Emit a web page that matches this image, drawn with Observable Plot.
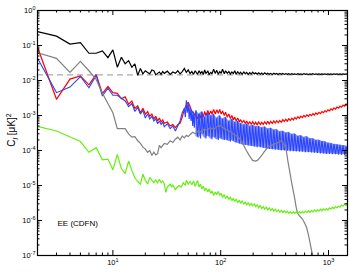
<!DOCTYPE html>
<html><head><meta charset="utf-8">
<script src="https://cdn.jsdelivr.net/npm/d3@7"></script>
<script src="https://cdn.jsdelivr.net/npm/@observablehq/plot@0.6"></script>
<style>body{margin:0;background:#fff}</style>
</head><body><div id="chart"></div>
<script>
// ---------- data ----------
const ellLow = [2,3,4,5,6,7,8,9,10,11,12,13,14,15,16,17,18,19,20,21,22,23,24,25,26,27,28,29,30,32,34,36,38,40,42,44,46,48,50,52,54,56,58];
const ellBlueLow = [2,3,4,5,6,7,8,9,10,11,12,13,14,15,16,17,18,19,20,21,22,23,24,25,26,27,28,29,30,32,34,36,38,40,42,44,46,47,48,49,50,51,52,53,54,55,56,57,58];
const ellHigh = [59,61,63,65,67,69,71,73,76,78,81,83,86,89,92,95,98,101,104,108,111,115,119,123,127,131,135,139,144,149,153,158,164,169,174,180,186,192,198,205,211,218,225,233,240,248,256,265,273,282,291,301,311,321,331,342,353,365,377,389,402,415,428,442,457,472,487,503,520,537,554,572,591,610,630,651,672,694,717,740,764,789,815,842,869,898,927,957,988,1021,1054,1088,1124,1161,1199,1238,1278,1320,1363,1408,1454,1500];

const blackLow = [0.25,0.185,0.11,0.12,0.06,0.06,0.07,0.045,0.075,0.024,0.046,0.03,0.037,0.024,0.03,0.014,0.022,0.0155,0.019,0.017,0.0155,0.02,0.019,0.0145,0.016,0.0175,0.015,0.018,0.016,0.0185,0.015,0.0175,0.016,0.019,0.0155,0.018,0.022,0.017,0.02,0.0158,0.018,0.015,0.019];
const blackHigh = [0.0175,0.015,0.019,0.016,0.018,0.0148,0.02,0.016,0.0185,0.015,
0.017,0.0155,0.021,0.016,0.0195,0.015,0.018,0.016,0.021,0.0155,
0.019,0.016,0.018,0.0152,0.0175,0.0158,0.019,0.015,0.0178,0.0155,
0.0172,0.015,0.0175,0.0155,0.017,0.015,0.0168,0.0152,0.0172,0.0155,
0.0166,0.0152,0.0165,0.0151,0.0164,0.015,0.0165,0.0151,0.0162,0.015,
0.016,0.0149,0.0161,0.015,0.0159,0.0149,0.016,0.015,0.0158,0.0149,
0.0156,0.015,0.0157,0.0149,0.0156,0.015,0.0155,0.0149,0.0156,0.015,
0.0155,0.0149,0.0156,0.015,0.0155,0.0149,0.0155,0.015,0.0156,0.0149,
0.0155,0.015,0.0155,0.0149,0.0154,0.015,0.0155,0.0149,0.0154,0.015,
0.0155,0.0149,0.0154,0.015,0.0155,0.0149,0.0154,0.015,0.0154,0.0149,
0.0154,0.0152];

const redLow = [0.089,0.0029,0.011,0.0135,0.0075,0.015,0.0042,0.0068,0.0045,0.0043,0.003,0.0034,0.0021,0.0026,0.0016,0.0019,0.0012,0.0016,0.0011,0.0013,0.00095,0.0011,0.0008,0.00095,0.0007,0.00085,0.00065,0.00075,0.0006,0.00065,0.0005,0.00055,0.00045,0.00055,0.0006,0.0009,0.0015,0.002,0.0024,0.0018,0.0013,0.00115,0.001];
const redHigh = [1.0e-3,8e-4,1.1e-3,8.5e-4,1.2e-3,9e-4,1.3e-3,1.0e-3,1.4e-3,1.05e-3,
1.35e-3,1.1e-3,1.5e-3,1.1e-3,1.45e-3,1.15e-3,1.5e-3,1.1e-3,1.35e-3,1.0e-3,
1.25e-3,9e-4,1.1e-3,8.2e-4,1.0e-3,7.5e-4,9e-4,7e-4,8.5e-4,6.6e-4,
7.6e-4,6.3e-4,7.2e-4,5.9e-4,7e-4,5.7e-4,6.6e-4,5.6e-4,6.6e-4,5.5e-4,
6.4e-4,5.4e-4,6.5e-4,5.5e-4,6.4e-4,5.6e-4,6.6e-4,5.7e-4,6.8e-4,5.8e-4,
6.8e-4,5.9e-4,7e-4,6.1e-4,7.1e-4,6.2e-4,7.2e-4,6.4e-4,7.6e-4,6.7e-4,
7.8e-4,6.9e-4,8.1e-4,7.2e-4,8.4e-4,7.5e-4,8.8e-4,7.9e-4,9.2e-4,8.3e-4,
9.6e-4,8.7e-4,1.0e-3,9.1e-4,1.04e-3,9.5e-4,1.08e-3,9.9e-4,1.13e-3,1.03e-3,
1.18e-3,1.08e-3,1.23e-3,1.13e-3,1.3e-3,1.2e-3,1.38e-3,1.27e-3,1.46e-3,1.35e-3,
1.55e-3,1.43e-3,1.65e-3,1.52e-3,1.74e-3,1.62e-3,1.85e-3,1.72e-3,1.97e-3,1.84e-3,
2.12e-3,2.05e-3];

const blueLow = [0.043,0.0045,0.0065,0.013,0.0062,0.014,0.0036,0.006,0.0038,0.0038,0.0031,0.0026,0.0018,0.0022,0.0013,0.0017,0.0011,0.0014,0.00085,0.0011,0.0008,0.00095,0.0007,0.0008,0.00058,0.0007,0.00055,0.00065,0.00048,0.00058,0.00042,0.0005,0.00036,0.0005,0.0007,0.0012,0.0016,0.0009,0.0027,0.0012,0.0023,0.0008,0.0018,0.0007,0.0014,0.0005,0.0013,0.00045,0.0011];
const blueHigh = [1.4e-3,2.5e-4,1.1e-3,2.2e-4,1.3e-3,3e-4,9e-4,2.2e-4,1.2e-3,2.6e-4,
1e-3,2.1e-4,1.1e-3,2.4e-4,8.5e-4,2e-4,1e-3,2.2e-4,8e-4,2e-4,
9e-4,2e-4,7e-4,1.8e-4,8e-4,1.9e-4,6.5e-4,1.7e-4,7e-4,1.6e-4,
6e-4,1.5e-4,5.5e-4,1.45e-4,5.8e-4,1.4e-4,5e-4,1.35e-4,5.3e-4,1.3e-4,
4.8e-4,1.25e-4,5e-4,1.25e-4,4.5e-4,1.2e-4,4.8e-4,1.15e-4,4.2e-4,1.1e-4,
4.4e-4,1.08e-4,3.9e-4,1.05e-4,4e-4,1.05e-4,3.5e-4,1e-4,3.6e-4,1e-4,
3.2e-4,9.8e-5,3.3e-4,9.6e-5,2.9e-4,9.5e-5,3e-4,9.4e-5,2.6e-4,9.3e-5,
2.7e-4,9.2e-5,2.4e-4,9e-5,2.5e-4,8.9e-5,2.2e-4,8.8e-5,2.2e-4,8.6e-5,
2e-4,8.5e-5,2e-4,8.3e-5,1.85e-4,8.2e-5,1.8e-4,8e-5,1.65e-4,8e-5,
1.6e-4,7.9e-5,1.52e-4,7.8e-5,1.48e-4,7.7e-5,1.43e-4,7.6e-5,1.4e-4,7.6e-5,
1.36e-4,7.8e-5];

const grayEll = [2,3,4,5,6,7,8,9,10,11,12,13,14,15,16,17,18,19,20,21,22,23,24,25,26,27,28,30,32,34,36,38,40,42,44,46,48,50,53,55,58,62,66,70,75,80,86,92,98,105,112,120,130,140,150,160,173,185,198,210,219,230,240,252,265,280,295,310,328,345,365,385,406,420,435,455,484,500,516,545,574,600,625,650,667,690,711,730];
const grayVal = [0.062,0.043,0.017,0.035,0.019,0.0107,0.0043,0.0022,0.0012,0.00042,0.00042,0.00042,0.0003,0.00024,0.00025,0.00019,0.00016,0.000125,0.00011,0.000089,0.0001,0.000072,0.00009,0.000075,0.000081,0.00014,0.00012,
0.00016,0.00015,0.00019,0.00017,0.00021,0.00024,0.0002,0.00026,0.00023,0.00027,0.00025,
0.0003,0.00033,0.0003,0.00037,0.00034,0.0004,0.00038,0.00045,0.0004,0.00048,0.00052,
0.00045,0.0004,0.00036,0.0003,0.00026,0.00022,0.00016,0.0001,0.00007,0.000052,
0.00005,0.000052,0.000062,0.000072,0.00009,0.00011,0.00013,0.00014,0.00015,0.00016,
0.00017,0.00019,0.00016,0.0001,0.00005,0.000027,0.000012,0.0000046,0.0000025,0.0000016,
0.0000013,0.0000011,0.00000085,0.00000064,0.0000004,0.00000027,0.00000016,0.0000001,0.00000006];

const greenEllLow = [2,3,5,6,7,8,9,10,11,12,13,14,15,16,17,18,19,20,21,22,23,24,25,26,27,28,29,30,31,32,34,35,36,38,39,41,43,45,47,48,50,52,54,56,58];
const greenLow = [4.9e-4,3.6e-4,1.8e-4,8.9e-5,1.2e-4,5.4e-5,5.7e-5,2.8e-5,7.7e-5,3e-5,2.2e-5,5e-5,2.7e-5,1.66e-5,1.3e-5,1.1e-5,2.1e-5,1.4e-5,1.1e-5,1.7e-5,1.4e-5,1.2e-5,1.45e-5,1.2e-5,1.5e-5,1.2e-5,1.35e-5,1.1e-5,6.4e-6,
9e-6,1.1e-5,9e-6,1.05e-5,7.5e-6,8.5e-6,1e-5,9e-6,1.2e-5,1e-5,1.4e-5,1.1e-5,1.3e-5,1.05e-5,1.35e-5,9.5e-6];
const greenHigh = [1.1e-5,1.4e-5,9e-6,1.1e-5,8e-6,9.5e-6,7e-6,8.5e-6,6.5e-6,8e-6,
6e-6,7e-6,5.2e-6,6.5e-6,5.5e-6,6.8e-6,5.2e-6,6e-6,4.6e-6,5.5e-6,
4.2e-6,5e-6,4e-6,4.6e-6,3.7e-6,4.3e-6,3.5e-6,4e-6,3.3e-6,3.8e-6,
3.1e-6,3.6e-6,2.9e-6,3.4e-6,2.8e-6,3.2e-6,2.7e-6,3.1e-6,2.6e-6,3e-6,
2.5e-6,2.8e-6,2.3e-6,2.7e-6,2.2e-6,2.5e-6,2.1e-6,2.4e-6,2e-6,2.3e-6,
1.95e-6,2.2e-6,1.85e-6,2.1e-6,1.8e-6,2e-6,1.75e-6,1.95e-6,1.7e-6,1.9e-6,
1.65e-6,1.85e-6,1.6e-6,1.8e-6,1.6e-6,1.8e-6,1.6e-6,1.78e-6,1.6e-6,1.8e-6,
1.62e-6,1.82e-6,1.65e-6,1.85e-6,1.68e-6,1.9e-6,1.72e-6,1.95e-6,1.76e-6,2e-6,
1.8e-6,2.05e-6,1.85e-6,2.1e-6,1.9e-6,2.15e-6,1.95e-6,2.2e-6,2e-6,2.3e-6,
2.1e-6,2.4e-6,2.2e-6,2.5e-6,2.3e-6,2.6e-6,2.4e-6,2.75e-6,2.55e-6,2.9e-6,
2.7e-6,3e-6];

const noiseLevel = 0.0145;           // dashed reference level
const panelLabel = ["EE (CDFN)"];
const majorX = [10, 100, 1000];
const minorX = [2,3,4,5,6,7,8,9,20,30,40,50,60,70,80,90,200,300,400,500,600,700,800,900];
const majorY = [1e-7,1e-6,1e-5,1e-4,1e-3,1e-2,1e-1,1];
const minorY = d3.range(-7, 0).flatMap(k => [2,3,4,5,6,7,8,9].map(m => m * Math.pow(10, k)));

// ---------- build rows ----------
const rows = (ell, val) => ell.map((l, i) => ({l, v: val[i]}));
const black = rows(ellLow.concat(ellHigh), blackLow.concat(blackHigh));
const red = rows(ellLow.concat(ellHigh), redLow.concat(redHigh));
const blue = rows(ellBlueLow.concat(ellHigh), blueLow.concat(blueHigh));
const gray = rows(grayEll, grayVal);
const green = rows(greenEllLow.concat(ellHigh), greenLow.concat(greenHigh));
// the dense blue oscillation, as a band between successive high/low samples
const blueBand = d3.range(0, ellHigh.length - 1, 2).map(i => ({l: ellHigh[i], hi: blueHigh[i], lo: blueHigh[i + 1]}));

const W = 350, H = 272, mL = 37, mR = 3, mT = 10, mB = 17;
const pw = W - mL - mR, ph = H - mT - mB;
const fmt = d => "10^" + Math.round(Math.log10(d));
const lineOpts = (c, w) => ({x: "l", y: "v", stroke: c, strokeWidth: w, clip: true, strokeLinejoin: "miter", strokeMiterlimit: 2});

const svg = Plot.plot({
  width: W, height: H,
  marginLeft: mL, marginRight: mR, marginTop: mT, marginBottom: mB,
  style: {fontFamily: "'Liberation Sans', Arial, sans-serif", fontSize: "7.5px", background: "#fff", color: "#000"},
  x: {type: "log", domain: [2, 1500]},
  y: {type: "log", domain: [1e-7, 1]},
  marks: [
    Plot.ruleY([noiseLevel], {stroke: "#aaaaaa", strokeWidth: 1.3, strokeDasharray: "6,4"}),
    Plot.line(black, lineOpts("#000000", 1.2)),
    Plot.line(red, lineOpts("#ff0000", 1.2)),
    Plot.areaY(blueBand, {x: "l", y1: "lo", y2: "hi", fill: "#2a44ff", fillOpacity: 0.6, clip: true}),
    Plot.line(blue, lineOpts("#2a44ff", 1.1)),
    Plot.line(gray, lineOpts("#808080", 1.2)),
    Plot.line(green, lineOpts("#66ee11", 1.2)),
    Plot.text(panelLabel, {text: d => d, frameAnchor: "bottom-left", dx: 20, dy: -30, fontSize: 8, textAnchor: "start", fill: "#000"}),
    // inward ticks on all four sides
    Plot.tickX(majorX, {x: d => d, insetTop: ph - 5, stroke: "#000"}),
    Plot.tickX(majorX, {x: d => d, insetBottom: ph - 5, stroke: "#000"}),
    Plot.tickX(minorX, {x: d => d, insetTop: ph - 2.5, stroke: "#000"}),
    Plot.tickX(minorX, {x: d => d, insetBottom: ph - 2.5, stroke: "#000"}),
    Plot.tickY(majorY, {y: d => d, insetRight: pw - 5, stroke: "#000"}),
    Plot.tickY(majorY, {y: d => d, insetLeft: pw - 5, stroke: "#000"}),
    Plot.tickY(minorY, {y: d => d, insetRight: pw - 2.5, stroke: "#000"}),
    Plot.tickY(minorY, {y: d => d, insetLeft: pw - 2.5, stroke: "#000"}),
    Plot.axisX({ticks: majorX, tickSize: 0, tickPadding: 4, tickFormat: fmt, label: null}),
    Plot.axisY({ticks: majorY, tickSize: 0, tickPadding: 2, tickFormat: fmt, label: null}),
    Plot.frame({stroke: "#000", strokeWidth: 1.2})
  ]
});

// superscript exponents in tick labels
const ns = "http://www.w3.org/2000/svg";
for (const t of svg.querySelectorAll('g[aria-label$="tick label"] text')) {
  const s = t.textContent;
  if (!s.includes("^")) continue;
  const [b, e] = s.split("^");
  t.textContent = "";
  const t1 = document.createElementNS(ns, "tspan"); t1.textContent = b; t.appendChild(t1);
  const t2 = document.createElementNS(ns, "tspan"); t2.setAttribute("dy", "-3"); t2.setAttribute("font-size", "5.5"); t2.textContent = e; t.appendChild(t2);
}

// y-axis title  C_l [μK]^2
const yl = d3.select(svg).append("text")
  .attr("transform", "translate(15,130) rotate(-90)")
  .attr("text-anchor", "middle").attr("font-size", 10).attr("fill", "#000");
yl.append("tspan").text("C");
yl.append("tspan").attr("font-size", 7).attr("dy", 2.5).attr("font-style", "italic").text("l");
yl.append("tspan").attr("dy", -2.5).text(" [μK]");
yl.append("tspan").attr("font-size", 7).attr("dy", -4).text("2");

document.getElementById("chart").appendChild(svg);
</script>
</body></html>
